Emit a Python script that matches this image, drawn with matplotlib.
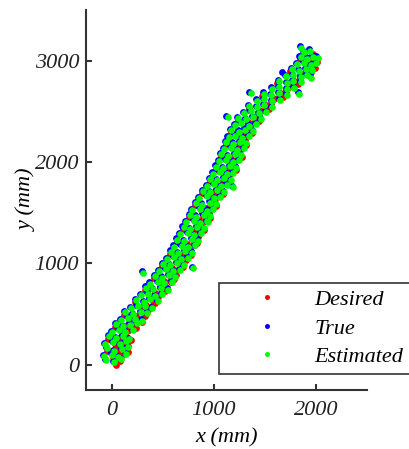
import matplotlib
matplotlib.use('Agg')
import matplotlib.pyplot as plt
from matplotlib.lines import Line2D

plt.rcParams['font.family'] = ['Liberation Serif', 'DejaVu Serif']
plt.rcParams['font.style'] = 'italic'
plt.rcParams['font.size'] = 16

# desired trajectory (mm)
desired_x = [45, 85, 15, 105, 65, 135, 35, 115, 165, 75, 145, 195, 105,
             175, 225, 165, 245, 295, 235, 315, 285, 355, 335, 395,
             405, 455, 425, 495, 475, 545, 525, 585, 565, 635, 615, 675,
             665, 725, 705, 765, 745, 805, 785, 845, 825, 885,
             865, 915, 895, 955, 935, 995, 975, 1035, 1015, 1075,
             1065, 1115, 1105, 1155, 1145, 1195, 1175, 1235, 1215, 1265,
             1255, 1305, 1285, 1345, 1335, 1385, 1395, 1445,
             1455, 1505, 1515, 1565, 1585, 1635, 1645, 1695,
             1725, 1765, 1785, 1835, 1845, 1895, 1905,
             1910, 1950, 1940, 1985, 1970, 2010, 1990,
             -40, 60, 160, -30, 70, 170, 35, 135, 235, 125, 225, 325,
             230, 330, 430, 328, 428, 528, 415, 515, 615, 495, 595, 695,
             575, 675, 775, 641, 741, 841, 700, 800, 900, 759, 859, 959,
             820, 920, 1020, 890, 990, 1090, 960, 1060, 1160, 1019, 1119, 1219,
             1073, 1173, 1273, 1120, 1220, 1320, 1170, 1270, 1370, 1240, 1340, 1440,
             1342, 1442, 1542, 1476, 1576, 1676, 1622, 1722, 1822, 1750, 1850, 1950,
             1840, 1914, 1990]
desired_y = [0, 40, 80, 100, 150, 130, 200, 210, 180, 260, 280, 240, 310,
             340, 370, 400, 430, 420, 480, 500, 540, 540, 590, 580,
             630, 670, 710, 710, 770, 760, 820, 820, 880, 880, 930, 960,
             1010, 1030, 1080, 1100, 1160, 1180, 1240, 1260, 1320, 1330,
             1390, 1420, 1480, 1500, 1550, 1570, 1630, 1650, 1710, 1730,
             1780, 1810, 1860, 1880, 1940, 1970, 2020, 2040, 2100, 2130,
             2180, 2220, 2270, 2300, 2360, 2380, 2440, 2450,
             2500, 2520, 2560, 2580, 2620, 2640, 2680, 2690,
             2730, 2750, 2800, 2810, 2860, 2880, 2920,
             2960, 2970, 3020, 3030, 3070, 2990, 2930,
             135, 110, 125, 255, 230, 245, 375, 350, 365, 495, 470, 485,
             615, 590, 605, 735, 710, 725, 855, 830, 845, 975, 950, 965,
             1095, 1070, 1085, 1215, 1190, 1205, 1335, 1310, 1325, 1455, 1430, 1445,
             1575, 1550, 1565, 1695, 1670, 1685, 1815, 1790, 1805, 1935, 1910, 1925,
             2055, 2030, 2045, 2175, 2150, 2165, 2295, 2270, 2285, 2415, 2390, 2405,
             2535, 2510, 2525, 2655, 2630, 2645, 2775, 2750, 2765, 2895, 2870, 2885,
             3015, 2990, 3005]

# true positions (mm)
true_x = [-60, 10, 80,
          -80, -5, 55, 128, -52, 15, 90, 150, -70, 5, 70, 135,
          -36, 35, 100, 165, -5, 60, 124, 200, 30, 104, 170, 235,
          80, 150, 214, 290, 124, 200, 275, 334, 185, 244, 320, 390,
          230, 304, 365, 440, 274, 350, 420, 485, 330, 394, 470, 540,
          370, 444, 505, 580, 414, 480, 555, 614, 450, 524, 590, 660,
          494, 560, 630, 694, 530, 604, 670, 740, 574, 640, 710, 774,
          600, 674, 740, 810, 634, 700, 774, 840, 660, 734, 800, 870,
          694, 760, 830, 890, 720, 794, 855, 924, 754, 820, 890, 950,
          780, 854, 920, 984, 814, 880, 950, 1014, 850, 924, 990, 1050,
          884, 950, 1020, 1090, 920, 994, 1060, 1120, 954, 1020, 1090, 1154,
          980, 1054, 1120, 1180, 1014, 1080, 1150, 1210, 1040, 1114, 1175, 1240,
          1064, 1130, 1200, 1260, 1090, 1160, 1220, 1284, 1110, 1180, 1245, 1310,
          1134, 1200, 1270, 1334, 1160, 1234, 1295, 1370, 1194, 1260, 1334, 1404,
          1230, 1304, 1375, 1450, 1284, 1350, 1430, 1504, 1340, 1414, 1485, 1564,
          1410, 1480, 1560, 1634, 1480, 1554, 1625, 1704, 1560, 1630, 1704, 1774,
          1630, 1704, 1770, 1844, 1694, 1770, 1840, 1904, 1754, 1820, 1890, 1954,
          1804, 1874, 1940, 1994, 1838, 1904, 1964, 1872, 1934,
          1120, 295, 790, 935, 1180, 1348, 1820, 2005, 1938, 1842, 1931, 1665]
true_y = [58, 38, 66,
          98, 112, 88, 122, 172, 148, 162, 186, 212, 238, 218, 242,
          292, 272, 297, 268, 333, 357, 338, 352, 412, 393, 407, 423,
          452, 478, 462, 448, 532, 513, 528, 517, 572, 593, 587, 568,
          652, 633, 657, 642, 697, 713, 692, 708, 772, 758, 767, 753,
          812, 828, 817, 832, 887, 873, 892, 877, 937, 953, 932, 947,
          1007, 993, 1012, 997, 1052, 1073, 1057, 1068, 1127, 1113, 1132, 1117,
          1177, 1188, 1172, 1193, 1247, 1233, 1252, 1238, 1297, 1313, 1292, 1308,
          1367, 1353, 1372, 1357, 1417, 1433, 1412, 1428, 1487, 1473, 1492, 1477,
          1537, 1553, 1532, 1548, 1607, 1593, 1612, 1597, 1657, 1673, 1652, 1668,
          1727, 1713, 1732, 1717, 1777, 1793, 1772, 1788, 1847, 1833, 1852, 1837,
          1897, 1913, 1892, 1908, 1967, 1953, 1972, 1957, 2017, 2033, 2012, 2028,
          2087, 2073, 2092, 2077, 2137, 2153, 2132, 2148, 2207, 2193, 2212, 2197,
          2257, 2273, 2252, 2268, 2327, 2313, 2332, 2317, 2377, 2393, 2372, 2388,
          2447, 2433, 2452, 2437, 2497, 2513, 2492, 2508, 2567, 2553, 2572, 2557,
          2617, 2633, 2612, 2628, 2687, 2673, 2692, 2677, 2737, 2753, 2732, 2748,
          2807, 2793, 2812, 2797, 2857, 2873, 2852, 2868, 2927, 2913, 2932, 2917,
          2977, 2993, 2972, 2988, 3048, 3033, 3053, 3098, 3113,
          2455, 920, 968, 1420, 1765, 2695, 2690, 3045, 2845, 3147, 3107, 2891]

# estimated positions (mm)
est_x = [-50, 20, 90,
         -70, 5, 65, 140, -40, 25, 100, 160, -60, 15, 80, 145,
         -25, 45, 110, 175, 5, 70, 135, 210, 40, 115, 180, 245,
         90, 160, 225, 300, 135, 210, 285, 345, 195, 255, 330, 400,
         240, 315, 375, 450, 285, 360, 430, 495, 340, 405, 480, 550,
         380, 455, 515, 590, 425, 490, 565, 625, 460, 535, 600, 670,
         505, 570, 640, 705, 540, 615, 680, 750, 585, 650, 720, 785,
         610, 685, 750, 820, 645, 710, 785, 850, 670, 745, 810, 880,
         705, 770, 840, 900, 730, 805, 865, 935, 765, 830, 900, 960,
         790, 865, 930, 995, 825, 890, 960, 1025, 860, 935, 1000, 1060,
         895, 960, 1030, 1100, 930, 1005, 1070, 1130, 965, 1030, 1100, 1165,
         990, 1065, 1130, 1190, 1025, 1090, 1160, 1220, 1050, 1125, 1185, 1250,
         1075, 1140, 1210, 1270, 1100, 1170, 1230, 1295, 1120, 1190, 1255, 1320,
         1145, 1210, 1280, 1345, 1170, 1245, 1305, 1380, 1205, 1270, 1345, 1415,
         1240, 1315, 1385, 1460, 1295, 1360, 1440, 1515, 1350, 1425, 1495, 1575,
         1420, 1490, 1570, 1645, 1490, 1565, 1635, 1715, 1570, 1640, 1715, 1785,
         1640, 1715, 1780, 1855, 1705, 1780, 1850, 1915, 1765, 1830, 1900, 1965,
         1815, 1885, 1950, 2005, 1850, 1915, 1975, 1885, 1945,
         1136, 308, 801, 947, 1193, 1360, 1832, 2018, 1950, 1850]
est_y = [45, 25, 55,
         85, 100, 75, 110, 160, 135, 150, 175, 200, 225, 205, 230,
         280, 260, 285, 255, 320, 345, 325, 340, 400, 380, 395, 410,
         440, 465, 450, 435, 520, 500, 515, 505, 560, 580, 575, 555,
         640, 620, 645, 630, 685, 700, 680, 695, 760, 745, 755, 740,
         800, 815, 805, 820, 875, 860, 880, 865, 925, 940, 920, 935,
         995, 980, 1000, 985, 1040, 1060, 1045, 1055, 1115, 1100, 1120, 1105,
         1165, 1175, 1160, 1180, 1235, 1220, 1240, 1225, 1285, 1300, 1280, 1295,
         1355, 1340, 1360, 1345, 1405, 1420, 1400, 1415, 1475, 1460, 1480, 1465,
         1525, 1540, 1520, 1535, 1595, 1580, 1600, 1585, 1645, 1660, 1640, 1655,
         1715, 1700, 1720, 1705, 1765, 1780, 1760, 1775, 1835, 1820, 1840, 1825,
         1885, 1900, 1880, 1895, 1955, 1940, 1960, 1945, 2005, 2020, 2000, 2015,
         2075, 2060, 2080, 2065, 2125, 2140, 2120, 2135, 2195, 2180, 2200, 2185,
         2245, 2260, 2240, 2255, 2315, 2300, 2320, 2305, 2365, 2380, 2360, 2375,
         2435, 2420, 2440, 2425, 2485, 2500, 2480, 2495, 2555, 2540, 2560, 2545,
         2605, 2620, 2600, 2615, 2675, 2660, 2680, 2665, 2725, 2740, 2720, 2735,
         2795, 2780, 2800, 2785, 2845, 2860, 2840, 2855, 2915, 2900, 2920, 2905,
         2965, 2980, 2960, 2975, 3035, 3020, 3040, 3085, 3100,
         2440, 905, 954, 1406, 1750, 2680, 2675, 3030, 2830, 3125]

fig = plt.figure(figsize=(4.10, 4.49), dpi=100)
ax = fig.add_axes([86 / 410, 59 / 449, 281 / 410, 380 / 449])

ax.scatter(desired_x, desired_y, s=24, color='#ff0000', linewidths=0)
ax.scatter(true_x, true_y, s=24, color='#0000ff', linewidths=0)
ax.scatter(est_x, est_y, s=23, color='#00ff00', linewidths=0)

ax.set_xlim(-250, 2500)
ax.set_ylim(-250, 3500)
ax.set_xticks([0, 1000, 2000])
ax.set_yticks([0, 1000, 2000, 3000])
ax.set_xlabel('x (mm)', labelpad=6)
ax.set_ylabel('y (mm)', labelpad=-2)

for side in ['top', 'right']:
    ax.spines[side].set_visible(False)
for side in ['left', 'bottom']:
    ax.spines[side].set_color('#333333')
    ax.spines[side].set_linewidth(1.5)
ax.tick_params(direction='in', length=4, width=1.5, color='#333333',
               labelsize=16, labelcolor='#222222')
ax.tick_params(axis='x', pad=8)
ax.tick_params(axis='y', pad=5)

handles = [Line2D([], [], ls='', marker='o', ms=3.6, mec='none', color=c)
           for c in ['#ff0000', '#0000ff', '#00ff00']]
leg = fig.legend(handles, ['Desired', 'True', 'Estimated'],
                 loc='upper left', bbox_to_anchor=(219 / 410, 1 - 283 / 449),
                 borderaxespad=0, borderpad=0.3, handlelength=3.7,
                 handletextpad=0.3, labelspacing=0.35, fancybox=False,
                 framealpha=1, edgecolor='#333333', fontsize=16)
leg.get_frame().set_linewidth(1.2)

fig.savefig('out.png', dpi=100)
